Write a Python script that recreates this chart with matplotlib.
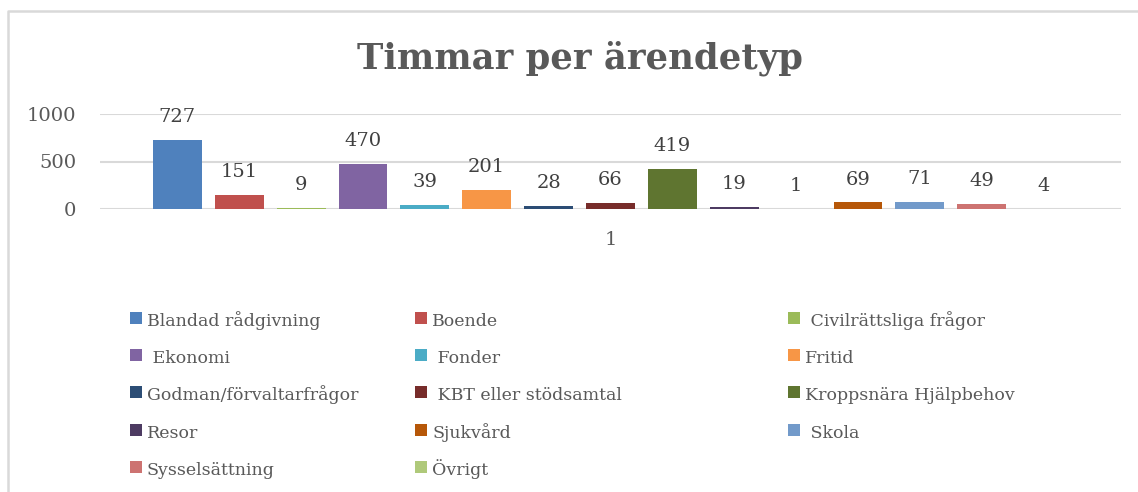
import matplotlib
matplotlib.use("Agg")
import matplotlib.pyplot as plt
from matplotlib.lines import Line2D
from matplotlib.patches import Rectangle
import numpy as np

plt.rcParams['font.family'] = ['DejaVu Serif']

# series (one per bar), one unnamed series has no legend entry
names = ["Blandad rådgivning", "Boende", " Civilrättsliga frågor", " Ekonomi",
         " Fonder", "Fritid", "Godman/förvaltarfrågor", " KBT eller stödsamtal",
         "Kroppsnära Hjälpbehov", "Resor", None, "Sjukvård", " Skola",
         "Sysselsättning", "Övrigt"]
values = [727, 151, 9, 470, 39, 201, 28, 66, 419, 19, 1, 69, 71, 49, 4]
colors = ["#4F81BD", "#C0504D", "#9BBB59", "#8064A2", "#4BACC6", "#F79646",
          "#2C4D75", "#772C2A", "#5F7530", "#4D3B62", "#276A7C", "#B65708",
          "#729ACA", "#CD7371", "#AFC97A"]
category = "1"
yticks = [0, 500, 1000]

txt = "#595959"
W, H = 1138, 492
fig = plt.figure(figsize=(W / 100, H / 100), dpi=100)

# chart frame (top and left edges visible)
fig.add_artist(Line2D([8 / W, 8 / W, 1], [0, 1 - 11 / H, 1 - 11 / H],
                      transform=fig.transFigure, color="#d9d9d9", lw=1.8))

ax = fig.add_axes([100 / W, 1 - 209 / H, 1021 / W, 95 / H])
n = len(values)
pos = np.arange(n) - (n - 1) / 2
for p, v, c in zip(pos, values, colors):
    ax.bar(p, v, width=0.79, color=c, zorder=3)
    ax.annotate(str(v), (p, v), xytext=(0, 10), textcoords="offset points",
                ha="center", va="bottom", fontsize=14, color="#404040")

ax.set_xlim(-8.25, 8.25)
ax.set_ylim(0, 1000)
ax.set_yticks(yticks)
ax.set_yticklabels([str(t) for t in yticks])
ax.set_xticks([0])
ax.set_xticklabels([category])
ax.tick_params(axis="both", length=0, labelsize=14, colors=txt)
ax.tick_params(axis="y", pad=17)
ax.tick_params(axis="x", pad=16)
ax.grid(axis="y", color="#d9d9d9", lw=1.5, zorder=0)
for s in ax.spines.values():
    s.set_visible(False)

fig.text(580 / W, 1 - 58 / H, "Timmar per ärendetyp", ha="center", va="center",
         fontsize=25.5, fontweight="bold", color=txt)

# legend, row by row in three columns (unnamed series left out)
entries = [(nm, c) for nm, c in zip(names, colors) if nm]
col_x = [130, 415, 788]
row_base = [326, 363, 400, 438, 475]
for i, (nm, c) in enumerate(entries):
    x = col_x[i % 3]
    y = row_base[i // 3]
    fig.add_artist(Rectangle((x / W, 1 - (y - 2) / H), 11.5 / W, 12 / H,
                             transform=fig.transFigure, color=c, lw=0))
    fig.text((x + 17) / W, 1 - y / H, nm, ha="left", va="baseline",
             fontsize=12.5, color=txt)

fig.savefig("out.png", dpi=100)
